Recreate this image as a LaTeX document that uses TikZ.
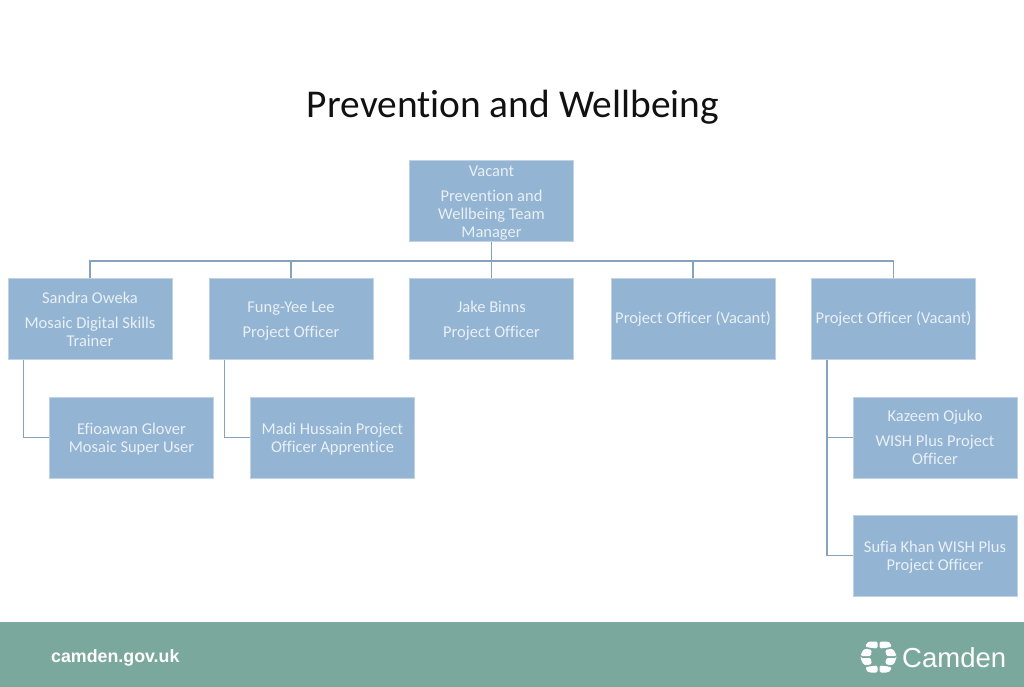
\documentclass[tikz,border=0pt]{standalone}
\usepackage{fontspec}
\setmainfont{Carlito}[Ligatures=NoCommon]
\newfontfamily\logofont{Liberation Sans}
\definecolor{boxfill}{HTML}{93B4D3}
\definecolor{boxedge}{HTML}{C0D3E5}
\definecolor{boxtext}{HTML}{E9F0F6}
\definecolor{linkcol}{HTML}{87A2BE}
\definecolor{footer}{HTML}{7BA89D}
\definecolor{titlecol}{HTML}{111111}
\newcommand{\lowerA}{\rule{0pt}{14pt}}
\newcommand{\lowerB}{\rule{0pt}{15pt}}
\tikzset{
  orgbox/.style={draw=boxedge,line width=1pt,fill=boxfill,text=boxtext,minimum width=164pt,minimum height=81pt,inner sep=0pt,align=center,font=\fontsize{16.5}{18}\selectfont},
  link/.style={draw=linkcol,line width=1.4pt},
  petal/.style={fill=white,draw=none,rounded corners=1.5pt}
}
\begin{document}
\begin{tikzpicture}[x=1pt,y=-1pt]
\useasboundingbox (0,0) rectangle (1024,687);
\fill[white] (0,0) rectangle (1024,687);
\fill[footer] (0,622) rectangle (1024,687);
\node[text=titlecol,font=\fontsize{39.4}{44}\selectfont,inner sep=0pt] (title) at (513,107.5) {Prevention and Wellbeing};

\coordinate (bus) at (491.5,261);
\node[orgbox] (mgr) at (491.5,201) {\lowerB Vacant\\[7pt]Prevention and\\Wellbeing Team\\Manager};
\node[orgbox] (sandra) at (90,319) {Sandra Oweka\\[7pt]Mosaic Digital Skills\\Trainer};
\node[orgbox] (fung) at (291,319) {\lowerB Fung-Yee Lee\\[7pt]Project Officer};
\node[orgbox] (jake) at (491.5,319) {\lowerB Jake Binns\\[7pt]Project Officer};
\node[orgbox] (po1) at (693,319) {Project Officer (Vacant)};
\node[orgbox] (po2) at (893.5,319) {Project Officer (Vacant)};
\node[orgbox] (efio) at (131.5,437.5) {\lowerA Efioawan Glover\\Mosaic Super User};
\node[orgbox] (madi) at (332.5,437.5) {\lowerA Madi Hussain Project\\Officer Apprentice};
\node[orgbox] (kazeem) at (935,437.5) {Kazeem Ojuko\\[7pt]WISH Plus Project\\Officer};
\node[orgbox] (sufia) at (935,555.5) {\lowerA Sufia Khan WISH Plus\\Project Officer};

\draw[link] (mgr.south) -- (jake.north);
\draw[link] (sandra.north) |- (bus);
\draw[link] (fung.north) |- (bus);
\draw[link] (po1.north) |- (bus);
\draw[link] (po2.north) |- (bus);
\draw[link] ([xshift=16pt]sandra.south west) |- (efio.west);
\draw[link] ([xshift=16pt]fung.south west) |- (madi.west);
\draw[link] ([xshift=16pt]po2.south west) |- (kazeem.west);
\draw[link] ([xshift=16pt]po2.south west) |- (sufia.west);

\node[text=white,anchor=west,inner sep=0pt,font=\logofont\bfseries\fontsize{17.8}{20}\selectfont] (web) at (51,657.7) {camden.gov.uk};
\node[text=white,anchor=west,inner sep=0pt,font=\logofont\fontsize{27.5}{30}\selectfont] (camden) at (902,657.5) {Camden};
% logo mark
\begin{scope}[shift={(878.5,657)}]
\foreach \sx/\sy in {1/1,-1/1,1/-1,-1/-1}{
  \begin{scope}[xscale=\sx,yscale=\sy]
  \fill[petal] (-1,-15.5) -- (-9,-15.5) .. controls (-11,-14.5) .. (-13.5,-10.5) -- (-7.5,-9) .. controls (-6,-9) .. (-1,-8.5) -- cycle;
  \fill[petal] (-18,-1) -- (-7.5,-1) .. controls (-7.5,-4) .. (-6.5,-7) -- (-13.5,-8.5) .. controls (-16,-6) .. (-18,-1) -- cycle;
  \end{scope}
}
\end{scope}
\end{tikzpicture}
\end{document}
